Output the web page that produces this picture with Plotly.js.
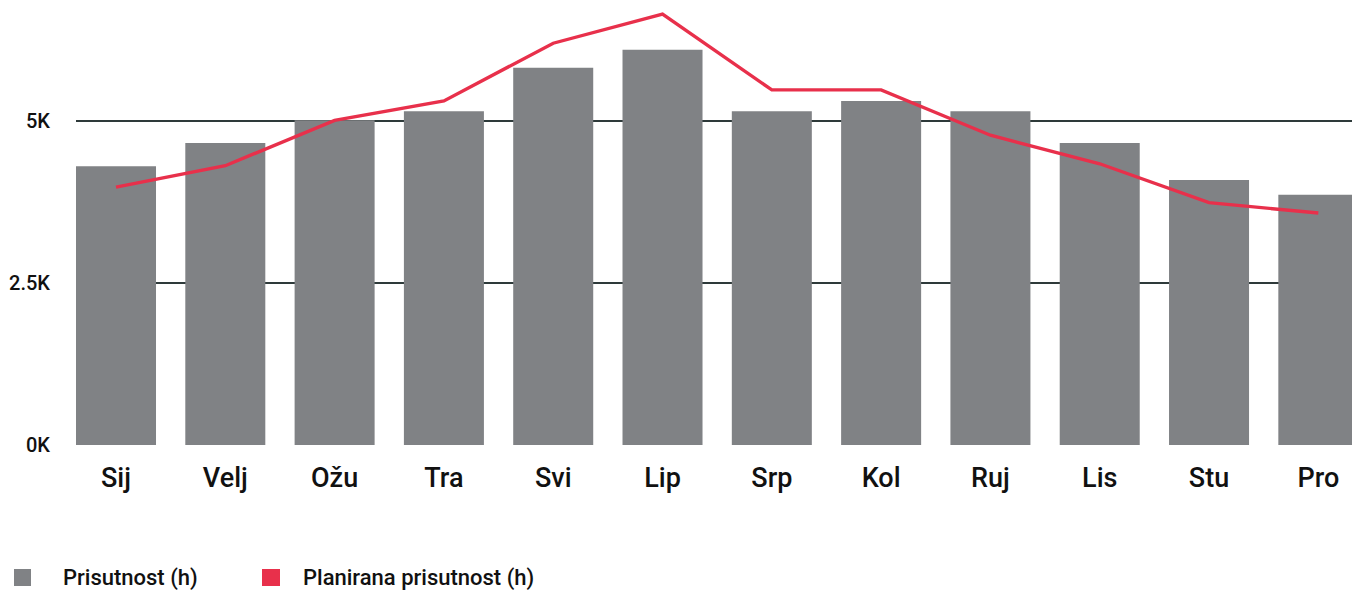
<!DOCTYPE html>
<html>
<head>
<meta charset="utf-8">
<script src="https://cdn.plot.ly/plotly-3.0.1.min.js"></script>
<style>
html,body{margin:0;padding:0;background:#fff;}
#chart{width:1352px;height:590px;}
</style>
</head>
<body>
<div id="chart"></div>
<script>
const months = ["Sij","Velj","Ožu","Tra","Svi","Lip","Srp","Kol","Ruj","Lis","Stu","Pro"];
const prisutnost = [4300, 4660, 5010, 5150, 5820, 6100, 5150, 5310, 5150, 4660, 4090, 3860];
const planirana = [3980, 4310, 5010, 5310, 6200, 6650, 5480, 5480, 4780, 4340, 3740, 3580];
const yTickVals = [0, 2500, 5000];
const yTickText = ["0K", "2.5K", "5K"];
const seriesNames = ["Prisutnost (h)", "Planirana prisutnost (h)"];

const barColor = "#808285";
const lineColor = "#E8304B";
const FONT = "Roboto, 'Open Sans', sans-serif";

const traces = [
  {
    type: "bar",
    x: months,
    y: prisutnost,
    name: seriesNames[0],
    marker: {color: barColor},
    hoverinfo: "x+y",
    showlegend: false
  },
  {
    type: "scatter",
    mode: "lines",
    x: months,
    y: planirana,
    name: seriesNames[1],
    line: {color: lineColor, width: 3.4},
    hoverinfo: "x+y",
    showlegend: false
  }
];

function px2paperX(px){ return (px - 76) / 1276; }
function px2paperY(py){ return (445 - py) / 445; }

const legendItems = [
  {color: barColor, sq: [14, 31], tx: 61, text: seriesNames[0]},
  {color: lineColor, sq: [262, 280], tx: 301, text: seriesNames[1]}
];

const shapes = legendItems.map(it => ({
  type: "rect", xref: "paper", yref: "paper",
  x0: px2paperX(it.sq[0]), x1: px2paperX(it.sq[1]),
  y0: px2paperY(569), y1: px2paperY(586),
  fillcolor: it.color, line: {width: 0}
}));

const annotations = legendItems.map(it => ({
  xref: "paper", yref: "paper",
  x: px2paperX(it.tx), y: px2paperY(578),
  xanchor: "left", yanchor: "middle",
  text: it.text, showarrow: false,
  font: {family: FONT, size: 22, weight: 500, color: "#111111"}
}));

const layout = {
  width: 1352, height: 590,
  margin: {l: 76, r: 0, t: 0, b: 145, pad: 0},
  paper_bgcolor: "#ffffff",
  plot_bgcolor: "#ffffff",
  bargap: 0.268,
  showlegend: false,
  xaxis: {
    type: "category",
    range: [-0.366, 11.308],
    showgrid: false,
    zeroline: false,
    showline: false,
    ticks: "",
    tickfont: {family: FONT, size: 27, weight: 500, color: "#111111"},
    ticklabelstandoff: 14,
    fixedrange: true
  },
  yaxis: {
    range: [0, 6867],
    tickvals: yTickVals,
    ticktext: yTickText,
    showgrid: true,
    gridcolor: "#2E3A3A",
    gridwidth: 2.4,
    zeroline: false,
    showline: false,
    ticks: "",
    tickfont: {family: FONT, size: 20, weight: 500, color: "#111111"},
    ticklabelstandoff: 25,
    fixedrange: true
  },
  shapes: shapes,
  annotations: annotations
};

Plotly.newPlot("chart", traces, layout, {displayModeBar: false, staticPlot: true});
</script>
</body>
</html>
